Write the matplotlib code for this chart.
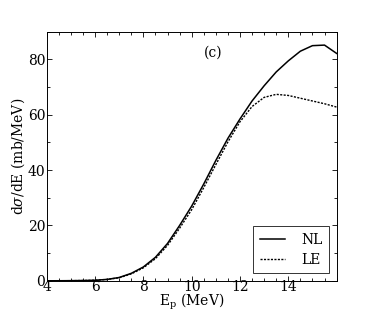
import matplotlib
matplotlib.use("Agg")
import matplotlib.pyplot as plt
from matplotlib.ticker import FixedLocator, MultipleLocator

energy = [4, 4.5, 5, 5.5, 6, 6.5, 7, 7.5, 8, 8.5, 9, 9.5, 10, 10.5, 11, 11.5, 12, 12.5, 13, 13.5, 14, 14.5, 15, 15.5, 16]
nl = [0, 0.02, 0.05, 0.1, 0.2, 0.5, 1.2, 2.7, 5.0, 8.5, 13.5, 20.0, 27.0, 35.0, 43.5, 51.5, 58.5, 65.0, 70.5, 75.5, 79.5, 83.0, 85.0, 85.2, 82.2]
le = [0, 0.02, 0.05, 0.1, 0.2, 0.5, 1.1, 2.5, 4.7, 8.0, 12.8, 19.0, 25.7, 33.7, 42.0, 50.2, 57.5, 63.0, 66.3, 67.4, 67.0, 66.0, 65.0, 64.0, 62.8]
xticks = [4, 6, 8, 10, 12, 14]

plt.rcParams['font.family'] = ['DejaVu Serif']
plt.rcParams['mathtext.fontset'] = 'dejavuserif'

fig = plt.figure(figsize=(3.74, 3.12), dpi=100)
ax = fig.add_axes([0.125, 0.100, 0.775, 0.798])
ax.plot(energy, nl, color='black', lw=1.1, ls='-', label='NL')
ax.plot(energy, le, color='black', lw=1.0, ls=(0, (1.5, 1.0)), label='LE')
ax.set_xlim(4, 16)
ax.set_ylim(0, 90)
ax.xaxis.set_major_locator(FixedLocator(xticks))
ax.xaxis.set_minor_locator(MultipleLocator(0.5))
ax.yaxis.set_major_locator(MultipleLocator(20))
ax.yaxis.set_minor_locator(MultipleLocator(10))
ax.tick_params(which='both', direction='in', top=True, right=True, labelsize=10)
ax.tick_params(axis='x', pad=-0.5)
ax.tick_params(axis='y', pad=1)
ax.tick_params(which='major', length=3.5, width=0.6)
ax.tick_params(which='minor', length=2, width=0.6)
for s in ax.spines.values():
    s.set_linewidth(0.7)
ax.set_xlabel(r'E$_{\rm p}$ (MeV)', fontsize=10)
ax.xaxis.set_label_coords(0.5, -0.045)
ax.set_ylabel(r'd$\sigma$/dE (mb/MeV)', fontsize=10)
ax.yaxis.set_label_coords(-0.068, 0.5)
ax.text(10.9, 82.3, '(c)', fontsize=10, ha='center', va='center')
leg = ax.legend(loc='lower right', fontsize=10, frameon=True, fancybox=False,
                edgecolor='black', handlelength=1.8, borderpad=0.45, labelspacing=0.45,
                handletextpad=1.2, borderaxespad=0.55)
leg.get_frame().set_linewidth(0.7)
fig.savefig('out.png', dpi=100)
